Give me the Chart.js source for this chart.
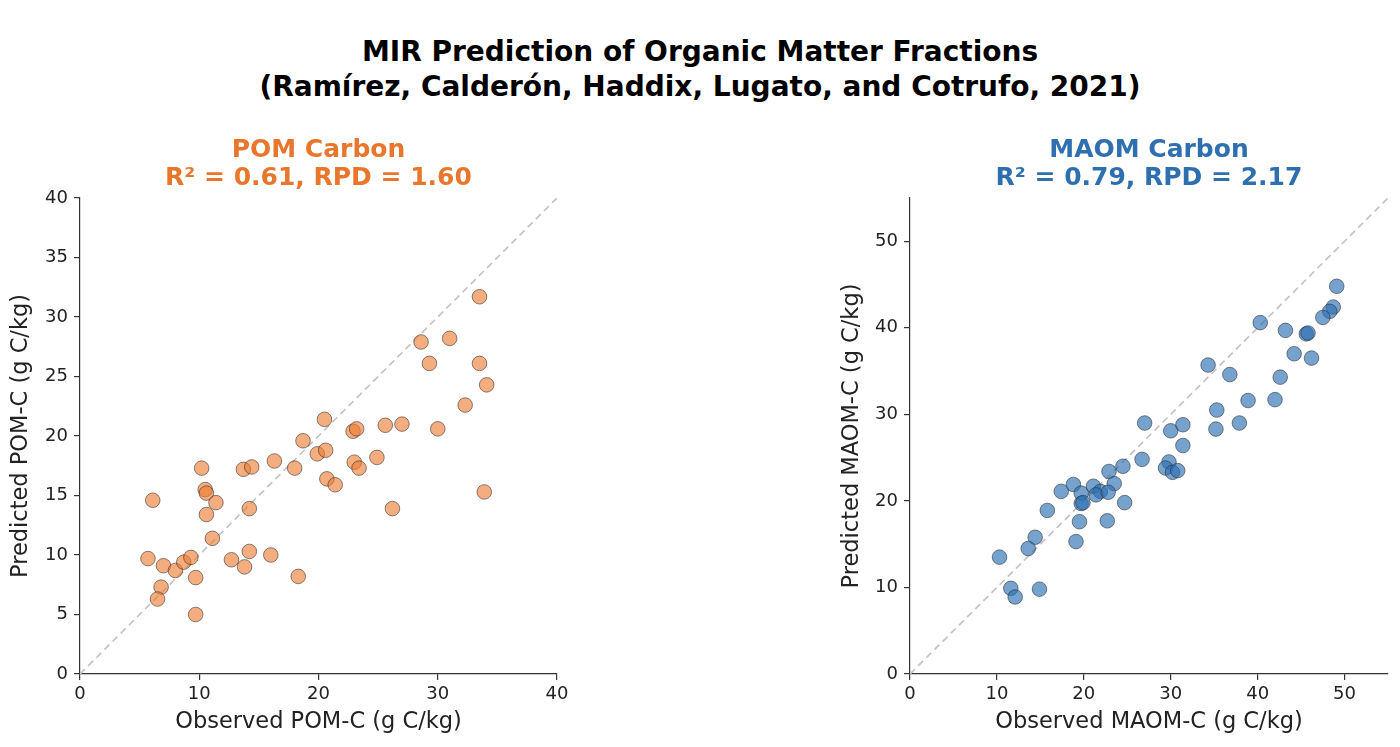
<!DOCTYPE html>
<html>
<head>
<meta charset="utf-8">
<script src="https://cdn.jsdelivr.net/npm/chart.js@4.4.0/dist/chart.umd.min.js"></script>
<style>
  html, body { margin:0; padding:0; background:#fff; }
  body { width:1400px; height:747px; position:relative; overflow:hidden; font-family:"DejaVu Sans", sans-serif; }
  #title { position:absolute; left:0; top:34px; width:1400px; text-align:center; font-weight:bold; font-size:28px; line-height:35px; color:#000; }
  #c1 { position:absolute; left:0; top:126px; }
  #c2 { position:absolute; left:830px; top:126px; }
</style>
</head>
<body>
<div id="title">MIR Prediction of Organic Matter Fractions<br>(Ramírez, Calderón, Haddix, Lugato, and Cotrufo, 2021)</div>
<canvas id="c1" width="587" height="621" style="width:587px;height:621px"></canvas>
<canvas id="c2" width="570" height="621" style="width:570px;height:621px"></canvas>
<script>
// POM carbon: observed vs predicted (g C/kg)
const pomObserved = [33.5, 28.6, 31.0, 29.3, 33.5, 34.1, 32.3, 20.5, 22.9, 23.2, 25.6, 27.0, 30.0, 18.7, 19.9, 20.6, 16.3, 13.7, 14.4, 10.2, 18.0, 23.0, 23.4, 24.9, 20.7, 21.4, 10.5, 10.6, 11.4, 6.1, 14.2, 10.6, 26.2, 33.9, 11.1, 5.7, 7.0, 8.0, 8.7, 9.3, 9.7, 6.8, 6.5, 9.7, 12.7, 13.8, 14.2, 16.0, 18.3];
const pomPredicted = [31.7, 27.9, 28.2, 26.1, 26.1, 24.3, 22.6, 21.4, 20.4, 20.6, 20.9, 21.0, 20.6, 19.6, 18.5, 18.8, 17.9, 17.2, 17.4, 17.3, 17.3, 17.8, 17.3, 18.2, 16.4, 15.9, 15.5, 15.2, 14.4, 14.6, 13.9, 13.4, 13.9, 15.3, 11.4, 9.7, 9.1, 8.7, 9.4, 9.8, 8.1, 7.3, 6.3, 5.0, 9.6, 9.0, 10.3, 10.0, 8.2];
// MAOM carbon: observed vs predicted (g C/kg)
const maomObserved = [49.1, 48.7, 48.3, 47.5, 40.3, 43.2, 45.6, 45.8, 44.2, 46.2, 42.6, 34.3, 36.8, 42.0, 38.9, 35.3, 37.9, 35.2, 27.0, 30.0, 31.4, 31.4, 26.7, 24.5, 22.9, 29.8, 29.4, 30.2, 30.8, 23.5, 18.8, 17.4, 21.1, 21.9, 19.7, 21.4, 22.8, 24.7, 19.7, 19.9, 15.8, 19.5, 22.7, 19.1, 14.4, 13.6, 10.3, 11.6, 12.1, 14.9];
const maomPredicted = [44.8, 42.4, 41.9, 41.2, 40.6, 39.7, 39.3, 39.4, 37.0, 36.5, 34.3, 35.7, 34.6, 31.7, 31.6, 30.5, 29.0, 28.3, 29.0, 28.1, 28.8, 26.4, 24.8, 24.0, 23.4, 24.5, 23.8, 23.3, 23.5, 22.0, 21.9, 21.1, 21.7, 21.1, 20.9, 20.7, 21.0, 19.8, 19.7, 19.8, 18.9, 17.6, 17.7, 15.3, 15.8, 14.5, 13.5, 9.9, 8.9, 9.8];

const pomTitle = ["POM Carbon", "R² = 0.61, RPD = 1.60"];
const maomTitle = ["MAOM Carbon", "R² = 0.79, RPD = 2.17"];
const pomAxisMax = 40, maomAxisMax = 55;
const pomStep = 5, maomStep = 10;

function pts(xs, ys) { return xs.map((x, i) => ({x: x, y: ys[i]})); }

function makeChart(id, xs, ys, titleLines, titleColor, fill, axMax, yStep, xLabel, yLabel, padRight, yTitlePad) {
  const tickFont = {family: "DejaVu Sans", size: 18};
  const axTitleFont = {family: "DejaVu Sans", size: 22.5};
  new Chart(document.getElementById(id), {
    type: 'scatter',
    data: {
      datasets: [
        {
          type: 'line',
          data: [{x: 0, y: 0}, {x: axMax, y: axMax}],
          borderColor: '#c4c4c4',
          borderWidth: 1.7,
          borderDash: [7, 4.5],
          pointRadius: 0,
          fill: false,
          order: 2
        },
        {
          data: pts(xs, ys),
          backgroundColor: fill,
          borderColor: 'rgba(40,40,40,0.55)',
          borderWidth: 1,
          pointRadius: 7.3,
          pointHoverRadius: 7.3,
          order: 1
        }
      ]
    },
    options: {
      responsive: false,
      animation: false,
      layout: {padding: {left: 0, right: padRight, top: 0, bottom: 0}},
      plugins: {
        legend: {display: false},
        tooltip: {enabled: false},
        title: {
          display: true,
          text: titleLines,
          color: titleColor,
          fullSize: false,
          font: {family: "DejaVu Sans", size: 25, weight: 'bold', lineHeight: 1.12},
          padding: {top: 10, bottom: 6}
        }
      },
      scales: {
        x: {
          type: 'linear',
          min: 0, max: axMax,
          afterFit: s => { s.height = 73; },
          ticks: {stepSize: 10, includeBounds: false, color: '#222', font: tickFont, padding: 4, maxRotation: 0},
          grid: {drawOnChartArea: false, drawTicks: true, tickLength: 6, color: '#333', lineWidth: 1.2},
          border: {display: true, color: '#333', width: 1.2},
          title: {display: true, text: xLabel, color: '#222', font: axTitleFont, padding: {top: 0, bottom: 11}}
        },
        y: {
          type: 'linear',
          min: 0, max: axMax,
          afterFit: s => { s.width = 80; },
          ticks: {stepSize: yStep, includeBounds: false, color: '#222', font: tickFont, padding: 6},
          grid: {drawOnChartArea: false, drawTicks: true, tickLength: 6, color: '#333', lineWidth: 1.2},
          border: {display: true, color: '#333', width: 1.2},
          title: {display: true, text: yLabel, color: '#222', font: axTitleFont, padding: {top: yTitlePad, bottom: 0}}
        }
      }
    }
  });
}

makeChart('c1', pomObserved, pomPredicted, pomTitle, '#e8762c', 'rgba(238,122,48,0.62)', pomAxisMax, pomStep,
  'Observed POM-C (g C/kg)', 'Predicted POM-C (g C/kg)', 30, 8);
makeChart('c2', maomObserved, maomPredicted, maomTitle, '#2e6fb0', 'rgba(44,112,180,0.65)', maomAxisMax, maomStep,
  'Observed MAOM-C (g C/kg)', 'Predicted MAOM-C (g C/kg)', 12, 9);
</script>
</body>
</html>
